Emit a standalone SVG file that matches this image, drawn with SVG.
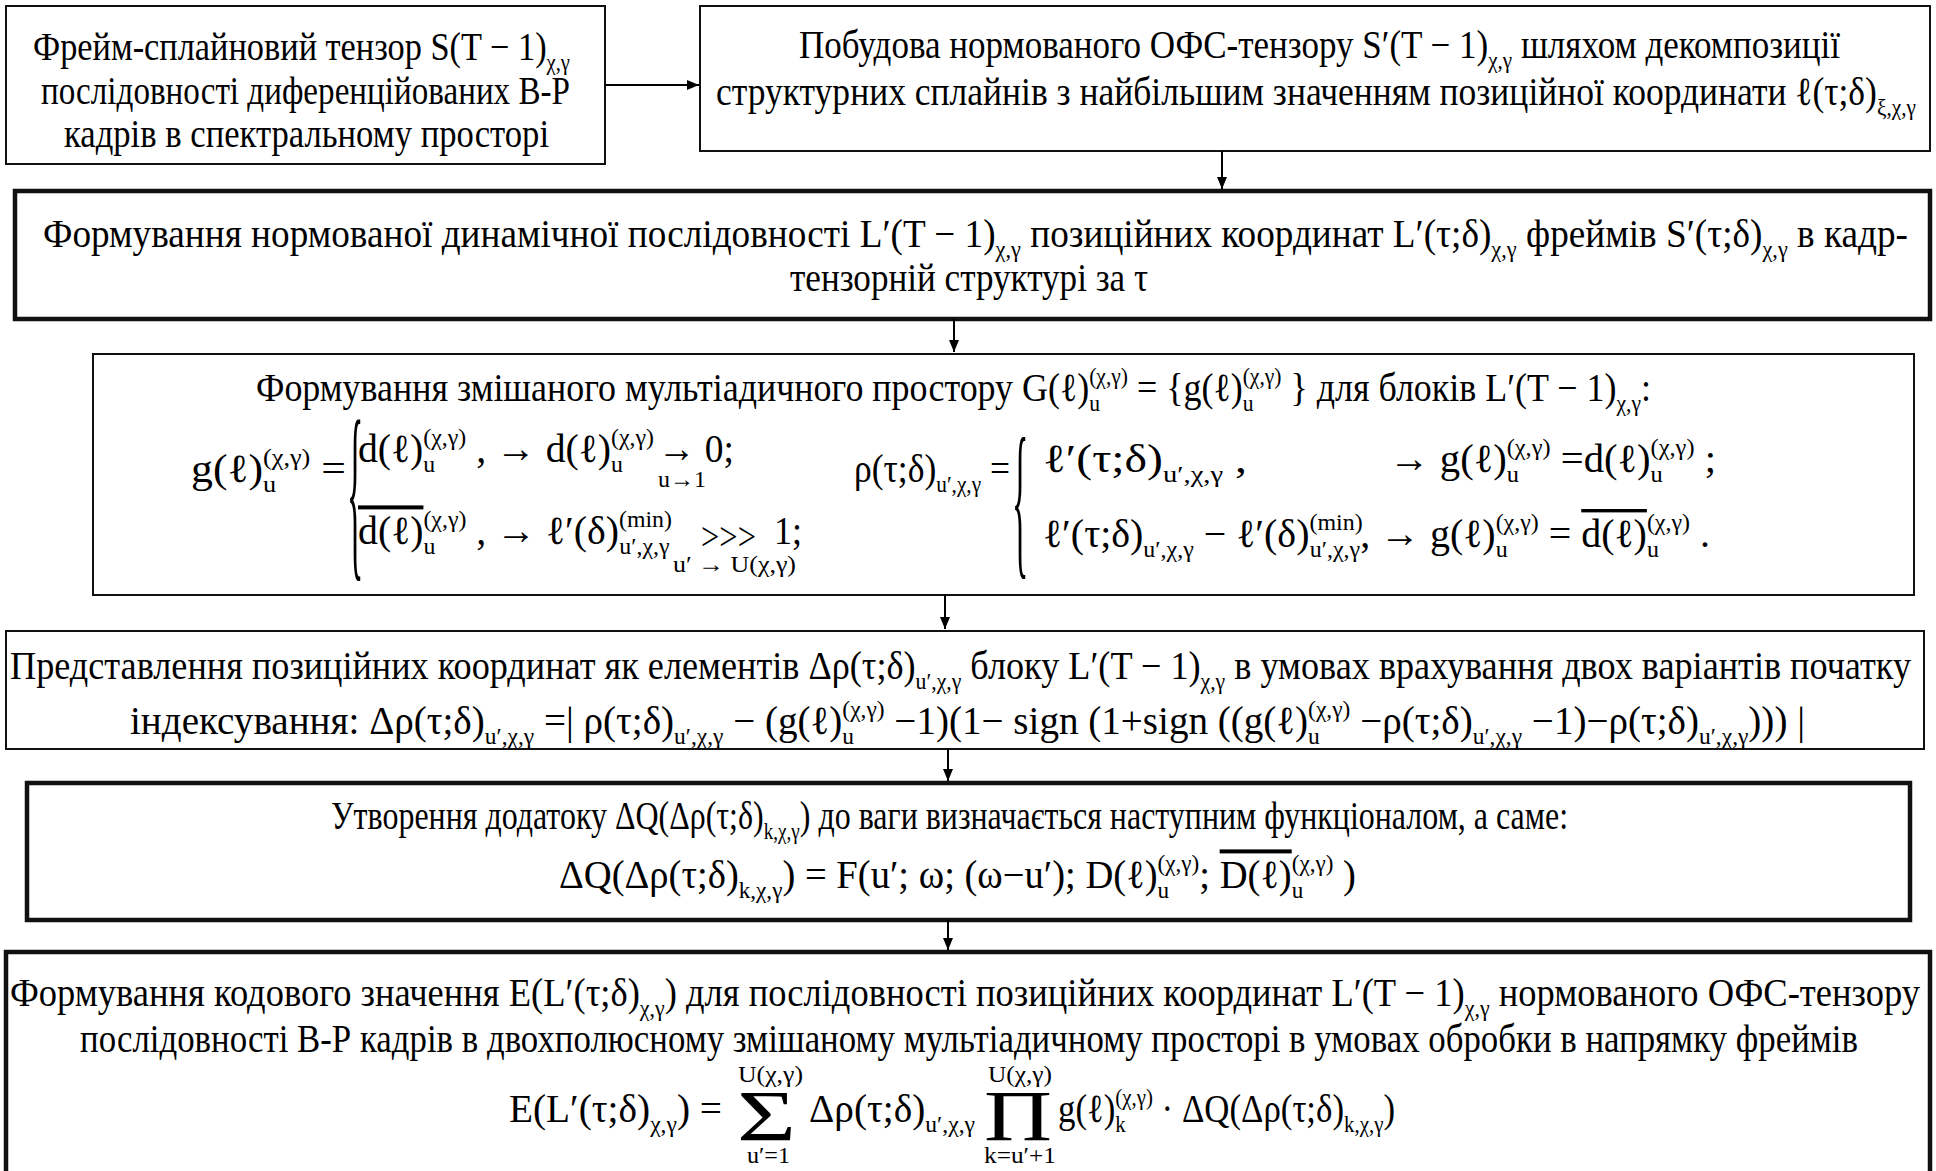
<svg xmlns="http://www.w3.org/2000/svg" width="1936" height="1171" viewBox="0 0 1936 1171">
  <style>
    .t { font-family: "Liberation Serif", "Times New Roman", serif; font-size: 40px; fill: #000; }
    .s { font-size: 24px; }
    .sm { font-family: "Liberation Serif", "Times New Roman", serif; font-size: 24px; fill: #000; }
    .big { font-family: "Liberation Serif", "Times New Roman", serif; font-size: 72px; fill: #000; }
    .box { fill: #fff; stroke: #111; stroke-width: 2; }
    .thick { stroke-width: 4.5; }
    .ov { text-decoration: overline; }
    .conn line { stroke: #000; stroke-width: 2; }
  </style>
  <defs>
    <marker id="arr" markerUnits="userSpaceOnUse" markerWidth="12" markerHeight="10" refX="12" refY="5" orient="auto">
      <path d="M0,0 L12,5 L0,10 z" fill="#000"/>
    </marker>
  </defs>

  <rect width="1936" height="1171" fill="#fff"/>

  <!-- Times-style lines are set at 40px and narrowed to 86% width -->

  <!-- source tensor -->
  <g id="node-source">
    <rect class="box" x="6" y="6" width="599" height="158"/>
    <text class="t" transform="translate(33,0) scale(0.86,1)" x="0" y="60" textLength="624.4" lengthAdjust="spacingAndGlyphs">Фрейм-сплайновий тензор S(T − 1)<tspan class="s" dy="10">χ,γ</tspan></text>
    <text class="t" transform="translate(41,0) scale(0.86,1)" x="0" y="104" textLength="615.1" lengthAdjust="spacingAndGlyphs">послідовності диференційованих В-Р</text>
    <text class="t" transform="translate(64,0) scale(0.86,1)" x="0" y="147" textLength="564" lengthAdjust="spacingAndGlyphs">кадрів в спектральному просторі</text>
  </g>

  <!-- normalised tensor -->
  <g id="node-normalize">
    <rect class="box" x="700" y="6" width="1230" height="145"/>
    <text class="t" transform="translate(799,0) scale(0.86,1)" x="0" y="58" textLength="1210.5" lengthAdjust="spacingAndGlyphs">Побудова нормованого ОФС-тензору S′(T − 1)<tspan class="s" dy="10">χ,γ</tspan><tspan dy="-10">  шляхом декомпозиції</tspan></text>
    <text class="t" transform="translate(716,0) scale(0.86,1)" x="0" y="105" textLength="1395.3" lengthAdjust="spacingAndGlyphs">структурних сплайнів з найбільшим значенням позиційної координати  ℓ(τ;δ)<tspan class="s" dy="10">ξ,χ,γ</tspan></text>
  </g>

  <!-- dynamic sequence -->
  <g id="node-sequence">
    <rect class="box thick" x="15" y="191" width="1915" height="128"/>
    <text class="t" transform="translate(43,0) scale(0.86,1)" x="0" y="247" textLength="2168.6" lengthAdjust="spacingAndGlyphs">Формування нормованої динамічної послідовності  L′(T − 1)<tspan class="s" dy="10">χ,γ</tspan><tspan dy="-10">  позиційних координат  L′(τ;δ)</tspan><tspan class="s" dy="10">χ,γ</tspan><tspan dy="-10">  фреймів  S′(τ;δ)</tspan><tspan class="s" dy="10">χ,γ</tspan><tspan dy="-10">  в кадр-</tspan></text>
    <text class="t" transform="translate(790,0) scale(0.86,1)" x="0" y="291" textLength="416.3" lengthAdjust="spacingAndGlyphs">тензорній структурі за  τ</text>
  </g>

  <!-- mixed multiadic space -->
  <g id="node-space">
    <rect class="box" x="93" y="354" width="1821" height="241"/>
    <text class="t" transform="translate(256,0) scale(0.86,1)" x="0" y="401" textLength="1622.1" lengthAdjust="spacingAndGlyphs">Формування змішаного мультіадичного простору  G(ℓ)<tspan class="s" dy="10">u</tspan><tspan class="s" dx="-12" dy="-27">(χ,γ)</tspan><tspan dy="17"> = {g(ℓ)</tspan><tspan class="s" dy="10">u</tspan><tspan class="s" dx="-12" dy="-27">(χ,γ)</tspan><tspan dy="17"> } для блоків  L′(T − 1)</tspan><tspan class="s" dy="10">χ,γ</tspan><tspan dy="-10">:</tspan></text>

    <!-- g(l) definition -->
    <text class="t" transform="translate(191,0) scale(0.86,1)" x="0" y="482" textLength="180.2" lengthAdjust="spacingAndGlyphs">g(ℓ)<tspan class="s" dy="10">u</tspan><tspan class="s" dx="-12" dy="-27">(χ,γ)</tspan><tspan dy="17"> =</tspan></text>
    <text class="t" transform="translate(347,555) scale(0.85,4.85)">{</text>
    <text class="t" transform="translate(358,0) scale(0.86,1)" x="0" y="462" textLength="344.2" lengthAdjust="spacingAndGlyphs">d(ℓ)<tspan class="s" dy="10">u</tspan><tspan class="s" dx="-12" dy="-27">(χ,γ)</tspan><tspan dy="17"> , → d(ℓ)</tspan><tspan class="s" dy="10">u</tspan><tspan class="s" dx="-12" dy="-27">(χ,γ)</tspan></text>
    <text class="t" transform="translate(658,0) scale(0.86,1)" x="0" y="462" textLength="88.4" lengthAdjust="spacingAndGlyphs">→ 0;</text>
    <text class="sm" x="658" y="487" textLength="48" lengthAdjust="spacingAndGlyphs">u→1</text>
    <text class="t" transform="translate(358,0) scale(0.86,1)" x="0" y="544" textLength="365.1" lengthAdjust="spacingAndGlyphs"><tspan class="ov">d(ℓ)</tspan><tspan class="s" dy="10">u</tspan><tspan class="s" dx="-12" dy="-27">(χ,γ)</tspan><tspan dy="17"> , → ℓ′(δ)</tspan><tspan class="s" dy="-17">(min)</tspan><tspan class="s" dx="-53" dy="27">u′,χ,γ</tspan></text>
    <text class="t" transform="translate(701,0) scale(0.86,1)" x="0" y="550" textLength="64" lengthAdjust="spacingAndGlyphs">&gt;&gt;&gt;</text>
    <text class="t" transform="translate(774,0) scale(0.86,1)" x="0" y="544" textLength="32.6" lengthAdjust="spacingAndGlyphs">1;</text>
    <text class="sm" x="673" y="572" textLength="123" lengthAdjust="spacingAndGlyphs">u′ → U(χ,γ)</text>

    <!-- rho definition -->
    <text class="t" transform="translate(854,0) scale(0.86,1)" x="0" y="482" textLength="181.4" lengthAdjust="spacingAndGlyphs">ρ(τ;δ)<tspan class="s" dy="10">u′,χ,γ</tspan><tspan dy="-10"> =</tspan></text>
    <text class="t" transform="translate(1012,556) scale(0.85,4.3)">{</text>
    <text class="t" transform="translate(1043,0) scale(0.86,1)" x="0" y="472" textLength="237.2" lengthAdjust="spacingAndGlyphs">ℓ′(τ;δ)<tspan class="s" dy="10">u′,χ,γ</tspan><tspan dy="-10"> ,</tspan></text>
    <text class="t" transform="translate(1389,0) scale(0.86,1)" x="0" y="472" textLength="380.2" lengthAdjust="spacingAndGlyphs">→ g(ℓ)<tspan class="s" dy="10">u</tspan><tspan class="s" dx="-12" dy="-27">(χ,γ)</tspan><tspan dy="17"> =d(ℓ)</tspan><tspan class="s" dy="10">u</tspan><tspan class="s" dx="-12" dy="-27">(χ,γ)</tspan><tspan dy="17"> ;</tspan></text>
    <text class="t" transform="translate(1043,0) scale(0.86,1)" x="0" y="547" textLength="775.6" lengthAdjust="spacingAndGlyphs">ℓ′(τ;δ)<tspan class="s" dy="10">u′,χ,γ</tspan><tspan dy="-10"> − ℓ′(δ)</tspan><tspan class="s" dy="-17">(min)</tspan><tspan class="s" dx="-53" dy="27">u′,χ,γ</tspan><tspan dy="-10">, → g(ℓ)</tspan><tspan class="s" dy="10">u</tspan><tspan class="s" dx="-12" dy="-27">(χ,γ)</tspan><tspan dy="17"> = </tspan><tspan class="ov">d(ℓ)</tspan><tspan class="s" dy="10">u</tspan><tspan class="s" dx="-12" dy="-27">(χ,γ)</tspan><tspan dy="17">  .</tspan></text>
  </g>

  <!-- positional coordinates -->
  <g id="node-coords">
    <rect class="box" x="6" y="631" width="1918" height="118"/>
    <text class="t" transform="translate(10,0) scale(0.86,1)" x="0" y="679" textLength="2210.5" lengthAdjust="spacingAndGlyphs">Представлення позиційних координат як елементів  Δρ(τ;δ)<tspan class="s" dy="10">u′,χ,γ</tspan><tspan dy="-10">  блоку  L′(T − 1)</tspan><tspan class="s" dy="10">χ,γ</tspan><tspan dy="-10">  в умовах врахування двох варіантів початку</tspan></text>
    <text class="t" transform="translate(130,0) scale(0.86,1)" x="0" y="734" textLength="1947.7" lengthAdjust="spacingAndGlyphs">індексування:  Δρ(τ;δ)<tspan class="s" dy="10">u′,χ,γ</tspan><tspan dy="-10"> =| ρ(τ;δ)</tspan><tspan class="s" dy="10">u′,χ,γ</tspan><tspan dy="-10"> − (g(ℓ)</tspan><tspan class="s" dy="10">u</tspan><tspan class="s" dx="-12" dy="-27">(χ,γ)</tspan><tspan dy="17"> −1)(1− sign (1+sign ((g(ℓ)</tspan><tspan class="s" dy="10">u</tspan><tspan class="s" dx="-12" dy="-27">(χ,γ)</tspan><tspan dy="17"> −ρ(τ;δ)</tspan><tspan class="s" dy="10">u′,χ,γ</tspan><tspan dy="-10"> −1)−ρ(τ;δ)</tspan><tspan class="s" dy="10">u′,χ,γ</tspan><tspan dy="-10">))) |</tspan></text>
  </g>

  <!-- weight addition -->
  <g id="node-weight">
    <rect class="box thick" x="27" y="783" width="1883" height="137"/>
    <text class="t" transform="translate(331,0) scale(0.86,1)" x="0" y="829" textLength="1438.4" lengthAdjust="spacingAndGlyphs">Утворення додатоку  ΔQ(Δρ(τ;δ)<tspan class="s" dy="10">k,χ,γ</tspan><tspan dy="-10">)  до ваги визначається наступним функціоналом, а саме:</tspan></text>
    <text class="t" transform="translate(559,0) scale(0.86,1)" x="0" y="888" textLength="926.7" lengthAdjust="spacingAndGlyphs">ΔQ(Δρ(τ;δ)<tspan class="s" dy="10">k,χ,γ</tspan><tspan dy="-10">) = F(u′; ω; (ω−u′); D(ℓ)</tspan><tspan class="s" dy="10">u</tspan><tspan class="s" dx="-12" dy="-27">(χ,γ)</tspan><tspan dy="17">; </tspan><tspan class="ov">D(ℓ)</tspan><tspan class="s" dy="10">u</tspan><tspan class="s" dx="-12" dy="-27">(χ,γ)</tspan><tspan dy="17"> )</tspan></text>
  </g>

  <!-- code value -->
  <g id="node-code">
    <rect class="box thick" x="6" y="952" width="1924" height="230"/>
    <text class="t" transform="translate(10,0) scale(0.86,1)" x="0" y="1006" textLength="2220.9" lengthAdjust="spacingAndGlyphs">Формування кодового значення  E(L′(τ;δ)<tspan class="s" dy="10">χ,γ</tspan><tspan dy="-10">)  для послідовності позиційних координат  L′(T − 1)</tspan><tspan class="s" dy="10">χ,γ</tspan><tspan dy="-10">  нормованого ОФС-тензору</tspan></text>
    <text class="t" transform="translate(80,0) scale(0.86,1)" x="0" y="1052" textLength="2067.4" lengthAdjust="spacingAndGlyphs">послідовності В-Р кадрів в двохполюсному змішаному мультіадичному просторі в умовах обробки в напрямку фреймів</text>

    <text class="t" transform="translate(509,0) scale(0.86,1)" x="0" y="1122" textLength="247.7" lengthAdjust="spacingAndGlyphs">E(L′(τ;δ)<tspan class="s" dy="10">χ,γ</tspan><tspan dy="-10">) =</tspan></text>
    <text class="big" x="737" y="1140" textLength="59" lengthAdjust="spacingAndGlyphs">Σ</text>
    <text class="sm" x="738" y="1082" textLength="65" lengthAdjust="spacingAndGlyphs">U(χ,γ)</text>
    <text class="sm" x="747" y="1163" textLength="43" lengthAdjust="spacingAndGlyphs">u′=1</text>
    <text class="t" transform="translate(809,0) scale(0.86,1)" x="0" y="1122" textLength="193" lengthAdjust="spacingAndGlyphs">Δρ(τ;δ)<tspan class="s" dy="10">u′,χ,γ</tspan></text>
    <text class="big" x="984" y="1140" textLength="68" lengthAdjust="spacingAndGlyphs">Π</text>
    <text class="sm" x="988" y="1082" textLength="64" lengthAdjust="spacingAndGlyphs">U(χ,γ)</text>
    <text class="sm" x="984" y="1163" textLength="72" lengthAdjust="spacingAndGlyphs">k=u′+1</text>
    <text class="t" transform="translate(1058,0) scale(0.86,1)" x="0" y="1122" textLength="391.9" lengthAdjust="spacingAndGlyphs">g(ℓ)<tspan class="s" dy="10">k</tspan><tspan class="s" dx="-12" dy="-27">(χ,γ)</tspan><tspan dy="17"> · ΔQ(Δρ(τ;δ)</tspan><tspan class="s" dy="10">k,χ,γ</tspan><tspan dy="-10">)</tspan></text>
  </g>

  <!-- connectors -->
  <g id="connectors" class="conn">
    <line x1="605" y1="85" x2="699" y2="85" marker-end="url(#arr)"/>
    <line x1="1222" y1="151" x2="1222" y2="189" marker-end="url(#arr)"/>
    <line x1="954" y1="319" x2="954" y2="352" marker-end="url(#arr)"/>
    <line x1="945" y1="595" x2="945" y2="629" marker-end="url(#arr)"/>
    <line x1="948" y1="749" x2="948" y2="781" marker-end="url(#arr)"/>
    <line x1="948" y1="920" x2="948" y2="950" marker-end="url(#arr)"/>
  </g>
</svg>
